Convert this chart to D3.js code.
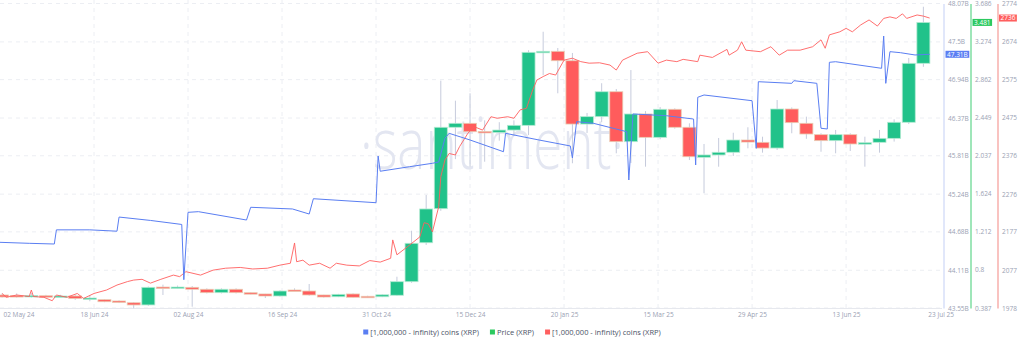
<!DOCTYPE html>
<html>
<head>
<meta charset="utf-8">
<script src="https://cdn.jsdelivr.net/npm/d3@7"></script>
<style>
  body { margin: 0; background: #fff; }
  text { font-family: "Open Sans", sans-serif; }
</style>
</head>
<body>
<script>
var w = 1024,
    h = 347;

// weekly XRP candles
var candleDates = ["2024-05-05","2024-05-12","2024-05-19","2024-05-26","2024-06-02","2024-06-09","2024-06-16","2024-06-23","2024-06-30","2024-07-07",
  "2024-07-14","2024-07-21","2024-07-28","2024-08-04","2024-08-11","2024-08-18","2024-08-25","2024-09-01","2024-09-08","2024-09-15",
  "2024-09-22","2024-09-29","2024-10-06","2024-10-13","2024-10-20","2024-10-27","2024-11-03","2024-11-10","2024-11-17","2024-11-24",
  "2024-12-01","2024-12-08","2024-12-15","2024-12-22","2024-12-29","2025-01-05","2025-01-12","2025-01-19","2025-01-26","2025-02-02",
  "2025-02-09","2025-02-16","2025-02-23","2025-03-02","2025-03-09","2025-03-16","2025-03-23","2025-03-30","2025-04-06","2025-04-13",
  "2025-04-20","2025-04-27","2025-05-04","2025-05-11","2025-05-18","2025-05-25","2025-06-01","2025-06-08","2025-06-15","2025-06-22",
  "2025-06-29","2025-07-06","2025-07-13","2025-07-20"];
var open = [0.528,0.522,0.509,0.520,0.513,0.517,0.490,0.477,0.463,0.444,0.420,0.614,0.610,0.611,0.590,0.553,0.590,0.553,0.539,0.517,
  0.582,0.571,0.528,0.509,0.539,0.514,0.509,0.525,0.672,1.094,1.463,2.345,2.388,2.300,2.290,2.315,2.366,3.153,3.168,3.066,
  2.380,2.460,2.730,2.189,2.489,2.236,2.540,2.345,2.020,2.045,2.074,2.207,2.182,2.120,2.543,2.388,2.265,2.200,2.265,2.164,
  2.182,2.225,2.399,3.038];
var high = [0.545,0.545,0.550,0.530,0.530,0.530,0.525,0.480,0.470,0.450,0.620,0.640,0.630,0.625,0.600,0.600,0.600,0.556,0.540,0.580,
  0.600,0.647,0.530,0.540,0.545,0.520,0.535,0.726,1.224,1.611,2.850,2.633,2.713,2.420,2.400,2.420,3.180,3.380,3.204,3.150,
  2.500,2.822,2.760,2.965,2.520,2.565,2.550,2.388,2.164,2.229,2.286,2.345,2.243,2.640,2.560,2.460,2.280,2.316,2.280,2.243,
  2.316,2.431,3.096,3.651];
var low = [0.500,0.500,0.500,0.510,0.505,0.475,0.460,0.450,0.440,0.384,0.410,0.528,0.600,0.401,0.545,0.545,0.545,0.535,0.495,0.510,
  0.570,0.520,0.500,0.505,0.500,0.500,0.505,0.520,0.660,1.070,1.440,2.000,1.918,1.972,2.200,2.250,2.260,2.910,2.713,1.955,
  2.283,2.400,2.063,1.958,1.918,2.215,2.330,1.990,1.630,1.918,2.034,2.117,2.070,2.100,2.280,2.220,2.080,2.063,2.088,1.918,
  2.070,2.190,2.380,3.000];
var close = [0.506,0.512,0.523,0.517,0.517,0.490,0.495,0.455,0.449,0.420,0.611,0.610,0.614,0.590,0.553,0.590,0.553,0.539,0.517,0.571,
  0.575,0.528,0.506,0.535,0.503,0.509,0.530,0.672,1.088,1.460,2.345,2.388,2.297,2.290,2.315,2.366,3.157,3.168,3.066,2.380,
  2.460,2.730,2.189,2.489,2.236,2.540,2.345,2.026,2.045,2.074,2.207,2.185,2.120,2.543,2.395,2.272,2.200,2.265,2.164,2.178,
  2.225,2.399,3.038,3.481];

// balance held by 1M+ wallets, billions of XRP
var balanceDates = ["2024-05-04","2024-05-18","2024-05-30","2024-05-31","2024-06-16","2024-06-29","2024-06-30","2024-07-15","2024-07-30","2024-07-31",
  "2024-08-02","2024-08-07","2024-08-30","2024-09-01","2024-09-21","2024-09-29","2024-10-01","2024-10-31","2024-11-01","2024-11-02",
  "2024-11-16","2024-11-27","2024-11-30","2024-12-03","2024-12-05","2024-12-15","2024-12-31","2025-01-01","2025-01-17","2025-02-01",
  "2025-02-02","2025-02-04","2025-02-12","2025-02-28","2025-03-01","2025-03-03","2025-03-19","2025-04-01","2025-04-02","2025-04-03",
  "2025-04-06","2025-04-29","2025-05-01","2025-05-02","2025-05-18","2025-05-19","2025-05-30","2025-06-01","2025-06-04","2025-06-05",
  "2025-06-08","2025-06-30","2025-07-01","2025-07-02","2025-07-04","2025-07-09","2025-07-16","2025-07-23"];
var balance = [44.525,44.51,44.50,44.71,44.71,44.69,44.90,44.85,44.79,43.97,
  44.97,44.98,44.856,45.045,45.02,44.945,45.172,45.113,45.806,45.58,
  45.647,45.698,45.717,46.07,46.143,46.044,45.87,46.143,46.044,45.955,
  45.777,46.316,46.292,46.167,45.45,46.43,46.404,46.355,45.673,46.678,
  46.712,46.627,45.92,46.909,46.885,46.924,46.885,46.218,46.207,47.197,
  47.206,47.108,47.587,46.885,47.355,47.34,47.306,47.316];

// number of 1M+ wallets
var holderDates = ["2024-05-05","2024-05-07","2024-05-12","2024-05-18","2024-05-19","2024-05-20","2024-05-25","2024-05-29","2024-05-31","2024-06-05",
  "2024-06-10","2024-06-13","2024-06-18","2024-06-24","2024-06-29","2024-07-04","2024-07-07","2024-07-11","2024-07-15","2024-07-20",
  "2024-07-26","2024-07-29","2024-08-01","2024-08-08","2024-08-14","2024-08-20","2024-08-27","2024-09-02","2024-09-09","2024-09-15",
  "2024-09-20","2024-09-22","2024-09-23","2024-09-26","2024-09-29","2024-10-04","2024-10-09","2024-10-12","2024-10-17","2024-10-23",
  "2024-10-28","2024-11-02","2024-11-07","2024-11-08","2024-11-10","2024-11-15","2024-11-21","2024-11-23","2024-11-25","2024-11-27",
  "2024-11-30","2024-12-01","2024-12-03","2024-12-05","2024-12-08","2024-12-10","2024-12-14","2024-12-17","2024-12-21","2024-12-25",
  "2024-12-28","2025-01-02","2025-01-05","2025-01-08","2025-01-11","2025-01-14","2025-01-16","2025-01-19","2025-01-22","2025-01-25",
  "2025-01-29","2025-02-02","2025-02-06","2025-02-10","2025-02-15","2025-02-20","2025-02-23","2025-02-26","2025-03-05","2025-03-10",
  "2025-03-15","2025-03-19","2025-03-24","2025-03-27","2025-04-03","2025-04-04","2025-04-10","2025-04-17","2025-04-18","2025-04-22",
  "2025-04-24","2025-04-26","2025-05-03","2025-05-08","2025-05-12","2025-05-16","2025-05-22","2025-05-28","2025-06-01","2025-06-03",
  "2025-06-05","2025-06-10","2025-06-13","2025-06-16","2025-06-20","2025-06-24","2025-06-28","2025-07-01","2025-07-04","2025-07-07",
  "2025-07-10","2025-07-12","2025-07-17","2025-07-20","2025-07-23"];
var holders = [2016,2006,2012,2008,2025,2008,2006,1997,2012,2006,
  2016,2003,2016,2025,2038,2047,2051,2053,2043,2053,
  2064,2060,2073,2064,2077,2082,2084,2080,2082,2090,
  2095,2148,2099,2103,2090,2095,2082,2095,2090,2088,
  2102,2098,2108,2156,2117,2138,2164,2201,2198,2177,
  2243,2321,2365,2382,2378,2400,2435,2452,2443,2478,
  2474,2478,2474,2496,2500,2548,2574,2583,2591,2587,
  2626,2631,2622,2618,2619,2613,2600,2626,2644,2648,
  2618,2626,2622,2628,2622,2639,2633,2654,2639,2652,
  2674,2652,2648,2661,2639,2652,2652,2661,2679,2657,
  2692,2700,2709,2700,2718,2731,2715,2735,2739,2735,
  2747,2735,2744,2741,2736];

var balanceTicks = [43.55,44.11,44.68,45.24,45.81,46.37,46.94,47.5,48.07];
var priceTicks = [0.387,0.8,1.212,1.624,2.037,2.449,2.862,3.274,3.686];
var holderTicks = [1978,2077,2177,2276,2376,2475,2575,2674,2774];
var dateTicks = ["2024-05-02","2024-06-18","2024-08-02","2024-09-16","2024-10-31","2024-12-15","2025-01-29","2025-03-15","2025-04-29","2025-06-13","2025-07-23"];
var dateLabels = ["02 May 24","18 Jun 24","02 Aug 24","16 Sep 24","31 Oct 24","15 Dec 24","20 Jan 25","15 Mar 25","29 Apr 25","13 Jun 25","23 Jul 25"];

var legendLabels = ["[1,000,000 - infinity) coins (XRP)", "Price (XRP)", "[1,000,000 - infinity) coins (XRP)"];
var color = {balance: "#5a7ef2", price: "#21c28a", holders: "#ff5f5f", down: "#ff5c5c"};

var parse = d3.utcParse("%Y-%m-%d");

var plotTop = 3.5, plotBottom = 308, plotRight = 942;

var x = d3.scaleUtc()
          .domain([parse("2024-05-04"), parse("2025-07-27")])
          .range([0, 938]);
var yBal = d3.scaleLinear().domain([balanceTicks[0], balanceTicks[8]]).range([plotBottom, plotTop]);
var yPrice = d3.scaleLinear().domain([priceTicks[0], priceTicks[8]]).range([plotBottom, plotTop]);
var yHold = d3.scaleLinear().domain([holderTicks[0], holderTicks[8]]).range([plotBottom, plotTop]);

var svg = d3.select("body")
          .append("svg")
          .attr("width", w)
          .attr("height", h);

svg.append("rect").attr("width", w).attr("height", h).attr("fill", "#fff");

// grid
svg.append("g").selectAll("line")
   .data(balanceTicks)
   .join("line")
   .attr("x1", 0).attr("x2", plotRight)
   .attr("y1", function(d) { return yBal(d); })
   .attr("y2", function(d) { return yBal(d); })
   .attr("stroke", "#eceef3")
   .attr("stroke-dasharray", "4,4");

svg.append("g").selectAll("line")
   .data(dateTicks.slice(1, -1))
   .join("line")
   .attr("x1", function(d) { return x(parse(d)); })
   .attr("x2", function(d) { return x(parse(d)); })
   .attr("y1", 0).attr("y2", plotBottom)
   .attr("stroke", "#eceef3")
   .attr("stroke-dasharray", "4,4");

svg.append("line")
   .attr("x1", 0).attr("x2", plotRight)
   .attr("y1", plotBottom + 0.5).attr("y2", plotBottom + 0.5)
   .attr("stroke", "#e6e8ee");

// watermark
svg.append("text")
   .text("·santiment·")
   .attr("x", 492).attr("y", 169)
   .attr("text-anchor", "middle")
   .attr("font-size", 72)
   .attr("font-weight", 300)
   .attr("textLength", 264)
   .attr("lengthAdjust", "spacingAndGlyphs")
   .attr("fill", "#e3e6f1");

// candles
var candles = candleDates.map(function(d, i) {
  return {date: parse(d), o: open[i], h: high[i], l: low[i], c: close[i]};
});
var step = x(parse("2024-05-12")) - x(parse("2024-05-05"));
var bw = step * 0.89;

var cg = svg.append("g");
cg.selectAll("line")
  .data(candles)
  .join("line")
  .attr("x1", function(d) { return x(d.date); })
  .attr("x2", function(d) { return x(d.date); })
  .attr("y1", function(d) { return yPrice(d.h); })
  .attr("y2", function(d) { return yPrice(d.l); })
  .attr("stroke", "#c6cbdc")
  .attr("stroke-width", 1);

cg.selectAll("rect")
  .data(candles)
  .join("rect")
  .attr("x", function(d) { return x(d.date) - bw / 2; })
  .attr("y", function(d) { return yPrice(Math.max(d.o, d.c)); })
  .attr("width", bw)
  .attr("height", function(d) { return Math.max(1.5, Math.abs(yPrice(d.o) - yPrice(d.c))); })
  .attr("fill", function(d) { return d.c >= d.o ? color.price : color.down; })
  .attr("stroke", function(d) { return d.c >= d.o ? "#b4ead2" : "#e9cdb4"; })
  .attr("stroke-width", 0.8);

// lines
var holdLine = d3.line()
          .x(function(d, i) { return x(parse(holderDates[i])); })
          .y(function(d) { return yHold(d); });
svg.append("path")
   .attr("d", holdLine(holders))
   .attr("fill", "none")
   .attr("stroke", color.holders)
   .attr("stroke-width", 0.9);

var balLine = d3.line()
          .x(function(d, i) { return x(parse(balanceDates[i])); })
          .y(function(d) { return yBal(d); });
svg.append("path")
   .attr("d", balLine(balance))
   .attr("fill", "none")
   .attr("stroke", color.balance)
   .attr("stroke-width", 1);

// right axes
function rightAxis(scale, ticks, fmt, xpos, lineColor) {
  var g = svg.append("g")
     .attr("transform", "translate(" + xpos + ",0)")
     .call(d3.axisRight(scale).tickValues(ticks).tickFormat(fmt).tickSize(0).tickPadding(4.5));
  g.select(".domain").attr("stroke", lineColor).attr("stroke-width", 1.2);
  g.selectAll("text").attr("fill", "#9aa1b3").attr("font-size", 6.5).attr("font-family", "Open Sans");
}
rightAxis(yBal, balanceTicks, function(d) { return d + "B"; }, 943.5, "#cdd7f7");
rightAxis(yPrice, priceTicks, function(d) { return d; }, 970.5, "#5fd58a");
rightAxis(yHold, holderTicks, function(d) { return d; }, 997.5, "#f59b97");

// last value badges
function badge(txt, xpos, ypos, fill) {
  var t = svg.append("text")
     .text(txt)
     .attr("x", xpos + 1.5).attr("y", ypos)
     .attr("dy", "0.35em")
     .attr("font-size", 6.5)
     .attr("fill", "#fff");
  var tw = t.node().getComputedTextLength();
  svg.insert("rect", function() { return t.node(); })
     .attr("x", xpos).attr("y", ypos - 3.5)
     .attr("width", tw + 3).attr("height", 7)
     .attr("fill", fill);
}
badge("47.31B", 945.5, yBal(balance[balance.length - 1]), "#5b7ef3");
badge(String(close[close.length - 1]), 972.5, yPrice(close[close.length - 1]), "#2cc95f");
badge(String(holders[holders.length - 1]), 999, yHold(holders[holders.length - 1]), "#ff5f5f");

// x axis
var xg = svg.append("g")
   .attr("transform", "translate(0," + plotBottom + ")")
   .call(d3.axisBottom(x).tickValues(dateTicks.map(parse))
           .tickFormat(function(d, i) { return dateLabels[i]; })
           .tickSize(0).tickPadding(4));
xg.select(".domain").remove();
xg.selectAll("text").attr("fill", "#9aa1b3").attr("font-size", 6.5);
xg.selectAll(".tick").filter(function(d, i) { return i === 0; })
  .select("text").attr("text-anchor", "start").attr("x", 3 - x(parse(dateTicks[0])));
xg.selectAll(".tick").filter(function(d, i) { return i === dateTicks.length - 1; })
  .select("text").attr("x", 11);

// legend
var legendColors = [color.balance, "#2cc95f", color.holders];
var lg = svg.append("g");
var lx = 0;
legendLabels.forEach(function(lbl, i) {
  lg.append("rect")
    .attr("x", lx).attr("y", -2.5)
    .attr("width", 5).attr("height", 5)
    .attr("fill", legendColors[i]);
  var t = lg.append("text")
    .text(lbl)
    .attr("x", lx + 7).attr("y", 0)
    .attr("dy", "0.35em")
    .attr("font-size", 7.5)
    .attr("fill", "#4a5266");
  lx += 7 + t.node().getComputedTextLength() + 11;
});
lg.attr("transform", "translate(" + (w / 2 - (lx - 11) / 2) + ",332)");
</script>
</body>
</html>
